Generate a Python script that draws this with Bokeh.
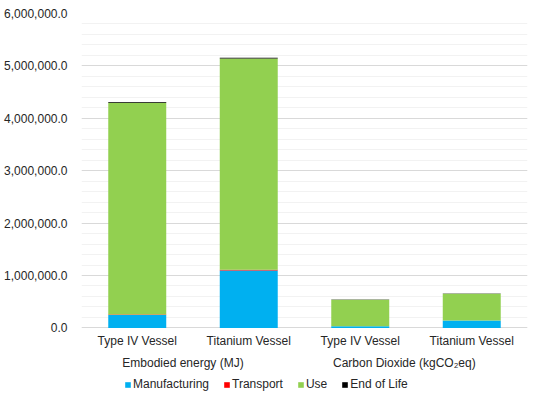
from bokeh.plotting import figure
from bokeh.models import FactorRange, NumeralTickFormatter, Legend, FixedTicker
from bokeh.core.properties import value
from bokeh.embed import file_html
from bokeh.resources import INLINE

groups = ["Embodied energy (MJ)", "Carbon Dioxide  (kgCO\u2082eq)"]
vessels = ["Type IV Vessel", "Titanium Vessel"]
stages = ["Manufacturing", "Transport", "Use", "End of Life"]
colors = ["#00B0F0", "#FF0000", "#92D050", "#000000"]

manufacturing = [246000, 1096000, 31000, 140000]
transport = [12000, 12000, 1500, 1500]
use = [4038000, 4033000, 504000, 509000]
end_of_life = [14000, 14000, 5000, 5500]

y_ticks = [0, 1000000, 2000000, 3000000, 4000000, 5000000, 6000000]
y_max = 6000000

factors = [(g, v) for g in groups for v in vessels]
data = dict(x=factors, Manufacturing=manufacturing, Transport=transport,
            Use=use)
data["End of Life"] = end_of_life

FONT = "Liberation Sans"
TXT = "#262626"
FS = "12px"

W, H = 534, 395
TOP, LEFT, RIGHT = 13, 81, 7
ZERO_PX = 327.4  # pixel row of the zero line inside the figure
px_per_unit = (ZERO_PX - TOP) / y_max
y_min = -(H - ZERO_PX) / px_per_unit

p = figure(x_range=FactorRange(*factors, factor_padding=0, group_padding=0, range_padding=0),
           y_range=(y_min, y_max), width=W, height=H,
           output_backend="svg", toolbar_location=None,
           min_border_left=LEFT, min_border_right=RIGHT, min_border_top=TOP, min_border_bottom=0)

rs = p.vbar_stack(stages, x="x", width=0.52, source=data, color=colors, line_color=None)

p.outline_line_color = None
p.background_fill_color = "white"
p.border_fill_color = "white"

p.xaxis.visible = False
p.xgrid.grid_line_color = None
p.ygrid.grid_line_color = "#D9D9D9"
p.ygrid.minor_grid_line_color = "#F2F2F2"

p.yaxis.ticker = FixedTicker(ticks=y_ticks, minor_ticks=list(range(0, y_max + 1, 200000)))
p.yaxis.formatter = NumeralTickFormatter(format="0,0.0")
p.yaxis.axis_line_color = None
p.yaxis.major_tick_line_color = None
p.yaxis.minor_tick_line_color = None
p.yaxis.major_label_standoff = 8
p.yaxis.major_label_text_font = FONT
p.yaxis.major_label_text_font_size = FS
p.yaxis.major_label_text_color = TXT

# category labels drawn below the zero line
p.text(x=factors, y=[0] * len(factors), text=[v for g, v in factors],
       y_offset=13, text_align="center", text_baseline="middle",
       text_font=value(FONT), text_font_size=value(FS), text_color=TXT)
p.text(x=groups, y=[0] * len(groups), text=groups,
       x_offset=-10, y_offset=35, text_align="center", text_baseline="middle",
       text_font=value(FONT), text_font_size=value(FS), text_color=TXT)

legend = Legend(items=[(s, [r]) for s, r in zip(stages, rs)],
                orientation="horizontal", location=(43, 4),
                glyph_width=7, glyph_height=7, label_standoff=2, spacing=14,
                padding=0, margin=0, border_line_color=None,
                label_text_font=FONT, label_text_font_size=FS,
                label_text_color=TXT, label_height=14, background_fill_alpha=0)
p.add_layout(legend, "center")

open("out.html", "w").write(file_html(p, INLINE))
